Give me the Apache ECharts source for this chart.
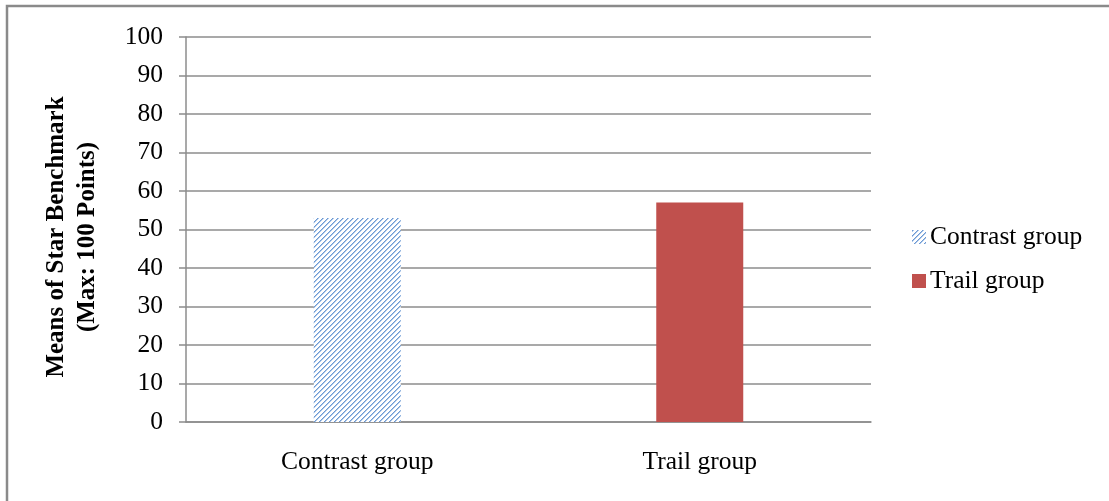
<!DOCTYPE html>
<html>
<head>
<meta charset="utf-8">
<script src="https://cdn.jsdelivr.net/npm/echarts@6/dist/echarts.min.js"></script>
<style>
html,body{margin:0;padding:0;background:#fff;}
#chart{width:1109px;height:501px;}
</style>
</head>
<body>
<div id="chart"></div>
<script>
var categories = ['Contrast group', 'Trail group'];
var seriesNames = ['Contrast group', 'Trail group'];
var contrastValues = [53, '-'];
var trailValues = ['-', 57];
var yAxisTitle = 'Means of Star Benchmark\n(Max: 100 Points)';

function makeStripe() {
  var n = 10;
  var c = document.createElement('canvas');
  c.width = n; c.height = n;
  var ctx = c.getContext('2d');
  ctx.fillStyle = '#ffffff';
  ctx.fillRect(0, 0, n, n);
  for (var x = 0; x < n; x++) {
    for (var y = 0; y < n; y++) {
      var m = (x + y) % 5;
      if (m === 0) { ctx.fillStyle = '#6d9ad3'; ctx.fillRect(x, y, 1, 1); }
      else if (m === 1) { ctx.fillStyle = '#adc7ea'; ctx.fillRect(x, y, 1, 1); }
    }
  }
  return c;
}
var stripe = makeStripe();

var font = 'Liberation Serif';
var chart = echarts.init(document.getElementById('chart'), null, {renderer: 'canvas'});
chart.setOption({
  animation: false,
  backgroundColor: '#ffffff',
  graphic: [{
    type: 'rect',
    shape: {x: 7, y: 6, width: 1120, height: 520},
    style: {fill: 'none', stroke: '#8a8a8a', lineWidth: 2.5},
    silent: true
  }, {
    type: 'text',
    x: 72,
    y: 237,
    rotation: Math.PI / 2,
    silent: true,
    style: {
      text: yAxisTitle,
      fontFamily: font,
      fontSize: 25,
      fontWeight: 'bold',
      fill: '#000',
      lineHeight: 31,
      align: 'center',
      verticalAlign: 'middle'
    }
  }],
  grid: {left: 186, top: 37, right: 238, bottom: 79},
  legend: {
    orient: 'vertical',
    left: 912,
    top: 224,
    padding: 0,
    itemWidth: 14,
    itemHeight: 14,
    itemGap: 18,
    icon: 'rect',
    textStyle: {fontFamily: font, fontSize: 25.5, color: '#000', padding: [0, 0, 0, -1]},
    data: seriesNames
  },
  xAxis: {
    type: 'category',
    data: categories,
    axisLine: {lineStyle: {color: '#8c8c8c', width: 1.5}},
    axisTick: {show: false},
    axisLabel: {fontFamily: font, fontSize: 25.5, color: '#000', margin: 27}
  },
  yAxis: {
    type: 'value',
    min: 0, max: 100, interval: 10,
    axisLine: {show: true, lineStyle: {color: '#8c8c8c', width: 1.5}},
    axisTick: {show: true, length: 7, lineStyle: {color: '#8c8c8c', width: 1.5}},
    axisLabel: {fontFamily: font, fontSize: 25.5, color: '#000', margin: 23},
    splitLine: {lineStyle: {color: '#8c8c8c', width: 1.5}}
  },
  series: [{
    name: seriesNames[0],
    type: 'bar',
    data: contrastValues,
    barWidth: 87,
    barGap: '-100%',
    itemStyle: {color: {image: stripe, repeat: 'repeat'}}
  }, {
    name: seriesNames[1],
    type: 'bar',
    data: trailValues,
    barWidth: 87,
    itemStyle: {color: '#c0504d'}
  }]
});
</script>
</body>
</html>
